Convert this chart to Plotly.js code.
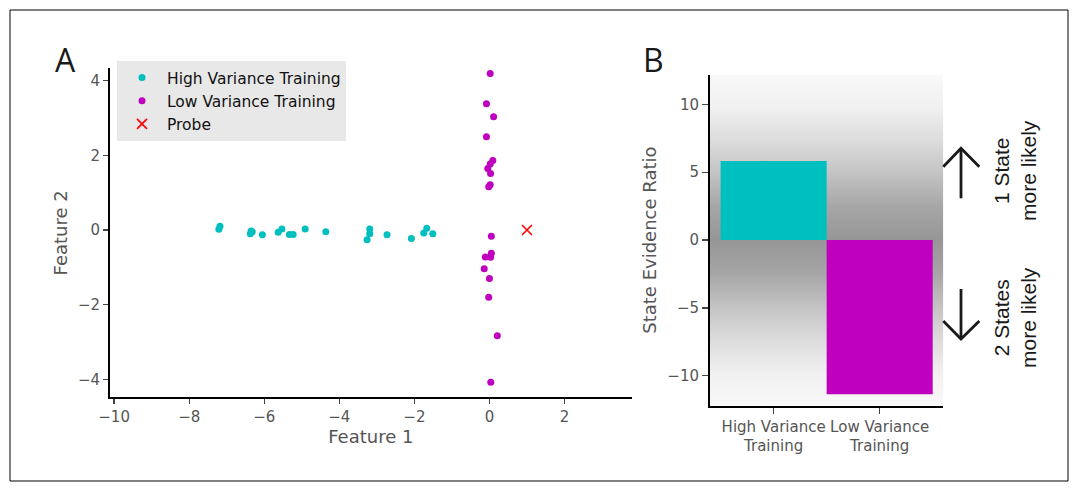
<!DOCTYPE html>
<html>
<head>
<meta charset="utf-8">
<script src="https://cdn.plot.ly/plotly-3.0.1.min.js"></script>
<style>
  html, body { margin: 0; padding: 0; background: #fff; }
  #chart { width: 1077px; height: 489px; }
</style>
</head>
<body>
<div id="chart"></div>
<script>
// Panel A: training samples in feature space
const highVarX = [-7.21, -7.18, -6.37, -6.35, -6.32, -6.05, -5.63, -5.53, -5.33, -5.23,
                  -4.91, -4.36, -3.26, -3.19, -3.19, -2.73, -2.08, -1.75, -1.67, -1.51];
const highVarY = [0.02, 0.10, -0.10, -0.03, -0.05, -0.13, -0.06, 0.03, -0.12, -0.12,
                  0.03, -0.05, -0.26, -0.10, 0.03, -0.13, -0.23, -0.08, 0.05, -0.10];
const lowVarX = [0.02, -0.08, 0.11, -0.08, 0.09, 0.02, -0.045, 0.03, 0.02, -0.02,
                 0.05, 0.05, -0.11, 0.03, -0.14, 0.0, -0.02, 0.21, 0.035];
const lowVarY = [4.19, 3.38, 3.03, 2.50, 1.86, 1.77, 1.65, 1.51, 1.21, 1.16,
                 -0.17, -0.62, -0.72, -0.73, -1.04, -1.30, -1.80, -2.83, -4.08];
const probeX = [1.0];
const probeY = [0.0];

// Panel B: evidence ratio per training condition
const barCategories = ['High Variance Training', 'Low Variance Training'];
const barValues = [5.83, -11.35];

const seriesNames = ['High Variance Training', 'Low Variance Training', 'Probe'];
const tickTextB = barCategories.map(c => c.replace(' Training', '<br>Training'));

const W = 1077, H = 489;
const px = v => v / W;
const py = v => 1 - v / H;

const CYAN = '#00bfbf', MAGENTA = '#bf00bf', RED = '#ff0000';
const TICK_FONT = { family: 'DejaVu Sans', size: 15, color: '#555555' };
const TITLE_FONT = { family: 'DejaVu Sans', size: 18, color: '#555555' };

const traces = [
  {
    type: 'scatter', mode: 'markers', name: seriesNames[0],
    x: highVarX, y: highVarY, xaxis: 'x', yaxis: 'y',
    marker: { color: CYAN, size: 7 }
  },
  {
    type: 'scatter', mode: 'markers', name: seriesNames[1],
    x: lowVarX, y: lowVarY, xaxis: 'x', yaxis: 'y',
    marker: { color: MAGENTA, size: 7 }
  },
  {
    type: 'scatter', mode: 'markers', name: seriesNames[2],
    x: probeX, y: probeY, xaxis: 'x', yaxis: 'y',
    marker: { symbol: 'x-thin', size: 10, color: RED, line: { color: RED, width: 1.6 } }
  },
  {
    type: 'bar', x: barCategories, y: barValues, xaxis: 'x2', yaxis: 'y2',
    width: 1, showlegend: false,
    marker: { color: [CYAN, MAGENTA], line: { width: 0 } }
  }
];

// vertical grey band behind panel B, darkest at zero
const gradientStops = [
  [0, '#f9f9f9'], [0.1, '#f0f0f0'], [0.2, '#dcdcdc'], [0.3, '#c3c3c3'],
  [0.4, '#a6a6a6'], [0.5, '#969696'], [0.6, '#a6a6a6'], [0.7, '#c3c3c3'],
  [0.8, '#dcdcdc'], [0.9, '#f0f0f0'], [1, '#f9f9f9']
];
const svg = '<svg xmlns="http://www.w3.org/2000/svg" width="100" height="400" preserveAspectRatio="none">' +
  '<defs><linearGradient id="g" x1="0" y1="0" x2="0" y2="1">' +
  gradientStops.map(s => '<stop offset="' + s[0] + '" stop-color="' + s[1] + '"/>').join('') +
  '</linearGradient></defs><rect width="100" height="400" fill="url(#g)"/></svg>';
const gradientSrc = 'data:image/svg+xml;charset=utf-8,' + encodeURIComponent(svg);

function seg(points, width) {
  const d = points.map((p, i) => (i ? 'L' : 'M') + px(p[0]) + ',' + py(p[1])).join(' ');
  return { type: 'path', xref: 'paper', yref: 'paper', path: d,
           line: { color: '#1a1a1a', width: width } };
}

const axisCommon = {
  showgrid: false, zeroline: false, showline: true, linecolor: '#000', linewidth: 2,
  ticks: 'outside', ticklen: 5, tickwidth: 1.3, tickcolor: '#444',
  tickfont: TICK_FONT
};

const layout = {
  width: W, height: H,
  margin: { l: 0, r: 0, t: 0, b: 0 },
  paper_bgcolor: '#ffffff',
  plot_bgcolor: 'rgba(0,0,0,0)',
  showlegend: true,
  legend: {
    x: px(117), y: py(61), xanchor: 'left', yanchor: 'top',
    bgcolor: '#e8e8e8', borderwidth: 0,
    font: { family: 'DejaVu Sans', size: 15.5, color: '#111111' },
    itemwidth: 40
  },
  xaxis: Object.assign({}, axisCommon, {
    domain: [px(110), px(631.7)], range: [-10.11, 3.79],
    tick0: 0, dtick: 2, anchor: 'y',
    title: { text: 'Feature 1', font: TITLE_FONT, standoff: 4 }
  }),
  yaxis: Object.assign({}, axisCommon, {
    domain: [py(397.3), py(68.3)], range: [-4.48, 4.33],
    tick0: 0, dtick: 2, anchor: 'x',
    title: { text: 'Feature 2', font: TITLE_FONT, standoff: 6 }
  }),
  xaxis2: Object.assign({}, axisCommon, {
    domain: [px(710), px(943.3)], range: [-0.6, 1.6], anchor: 'y2',
    type: 'category', tickvals: barCategories, ticktext: tickTextB, ticklen: 6
  }),
  yaxis2: Object.assign({}, axisCommon, {
    domain: [py(405.7), py(74.5)], range: [-12.2, 12.2],
    tick0: 0, dtick: 5, anchor: 'x2', ticklen: 6,
    title: { text: 'State Evidence Ratio', font: TITLE_FONT, standoff: 6 }
  }),
  images: [{
    source: gradientSrc, xref: 'x2 domain', yref: 'y2 domain',
    x: 0, y: 1, sizex: 1, sizey: 1, xanchor: 'left', yanchor: 'top',
    sizing: 'stretch', layer: 'below'
  }],
  annotations: [
    { text: 'A', xref: 'paper', yref: 'paper', x: px(65), y: py(60),
      xanchor: 'center', yanchor: 'middle', showarrow: false,
      font: { family: 'Open Sans', size: 32, color: '#1a1a1a' } },
    { text: 'B', xref: 'paper', yref: 'paper', x: px(653), y: py(60),
      xanchor: 'center', yanchor: 'middle', showarrow: false,
      font: { family: 'Open Sans', size: 32, color: '#1a1a1a' } },
    { text: '1 State<br>more likely', xref: 'paper', yref: 'paper', x: px(1015), y: py(171),
      xanchor: 'center', yanchor: 'middle', showarrow: false, textangle: -90,
      font: { family: 'Liberation Sans', size: 21, color: '#1a1a1a' } },
    { text: '2 States<br>more likely', xref: 'paper', yref: 'paper', x: px(1015), y: py(318),
      xanchor: 'center', yanchor: 'middle', showarrow: false, textangle: -90,
      font: { family: 'Liberation Sans', size: 21, color: '#1a1a1a' } }
  ],
  shapes: [
    // outer frame
    { type: 'rect', xref: 'paper', yref: 'paper', x0: px(10), x1: px(1068), y0: py(481), y1: py(10),
      line: { color: '#000', width: 1 }, fillcolor: 'rgba(0,0,0,0)' },
    // up arrow
    seg([[961, 198.3], [961, 148.3]], 2.8),
    seg([[943.3, 166.7], [961, 148.3], [979.3, 166.7]], 2.8),
    // down arrow
    seg([[961, 289], [961, 339]], 2.8),
    seg([[943.3, 321], [961, 339], [979.3, 321]], 2.8)
  ]
};

Plotly.newPlot('chart', traces, layout, { staticPlot: true, displayModeBar: false });
</script>
</body>
</html>
